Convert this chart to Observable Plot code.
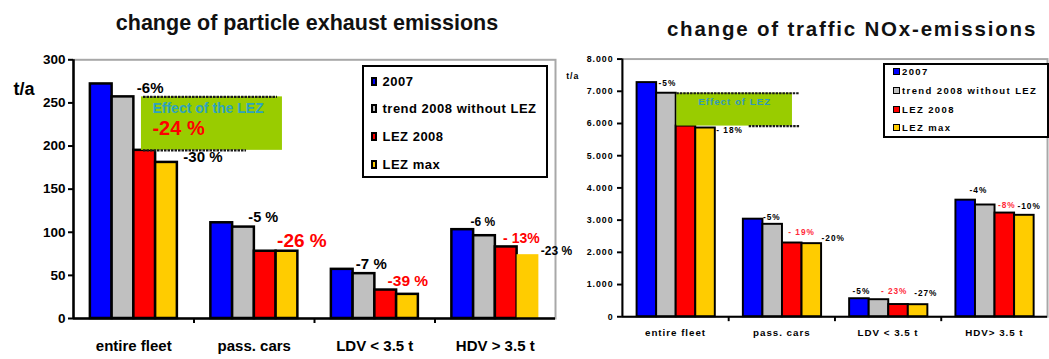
<!DOCTYPE html>
<html><head><meta charset="utf-8">
<script src="https://cdn.jsdelivr.net/npm/d3@7"></script>
<script src="https://cdn.jsdelivr.net/npm/@observablehq/plot@0.6"></script>
<style>
body{margin:0;background:#fff}
#root{position:relative;width:1049px;height:359px;overflow:hidden;background:#fff;font-family:"Liberation Sans",Arial,sans-serif;color:#000}
.title{position:absolute;font-weight:bold;text-align:center;white-space:nowrap;line-height:1;color:#111}
.legend{position:absolute;box-sizing:border-box;border:2.5px solid #000;background:#fff}
.item{position:absolute;left:0;height:16px;display:flex;align-items:center;white-space:nowrap;font-weight:bold}
.sw{box-sizing:border-box;border:2px solid #000;display:inline-block;flex:none}
svg.nox text{letter-spacing:1px}
</style></head><body>
<div id="root">
<div class="title" style="left:0;width:614px;top:13px;font-size:21.5px">change of particle exhaust emissions</div>
<div class="title" style="left:652px;width:400px;top:19px;font-size:20.5px;letter-spacing:1.8px">change of traffic NOx-emissions</div>
<div id="left" style="position:absolute;left:0;top:40px"></div>
<div id="right" style="position:absolute;left:560px;top:40px"></div>
<div class="legend" id="leg1" style="left:362px;top:65px;width:186px;height:113px"></div>
<div class="legend" id="leg2" style="left:883px;top:63px;width:166px;height:75px"></div>
</div>
<script>
// ---------- data ----------
const pmCategories = ["entire fleet", "pass. cars", "LDV < 3.5 t", "HDV > 3.5 t"];
const noxCategories = ["entire fleet", "pass. cars", "LDV < 3.5 t", "HDV> 3.5 t"];
const seriesNames = ["2007", "trend 2008 without LEZ", "LEZ 2008", "LEZ max"];
const seriesColors = ["#0000ff", "#c0c0c0", "#ff0000", "#ffcc00"];

const pm2007    = [272, 111, 57, 103];
const pmTrend   = [257, 106, 52, 96];
const pmLez2008 = [195, 78, 33, 83];
const pmLezMax  = [181, 78, 28, 74];

const nox2007    = [7270, 3030, 560, 3620];
const noxTrend   = [6940, 2870, 530, 3470];
const noxLez2008 = [5920, 2290, 380, 3220];
const noxLezMax  = [5860, 2270, 375, 3150];

const pmTicks  = [0, 50, 100, 150, 200, 250, 300];
const noxTicks = [0, 1000, 2000, 3000, 4000, 5000, 6000, 7000, 8000];

const pmEffectLabel = "Effect of the LEZ";
const pmEffectValue = "-24 %";
const noxEffectLabel = "Effect of LEZ";

const pmNoteTexts = ["-6%", "-30 %", "-5 %", "-26 %", "-7 %", "-39 %", "-6 %", "- 13%", "-23 %"];
const pmNoteCat   = [0, 0, 1, 1, 2, 2, 3, 3, 3];
const pmNoteSer   = [1, 3, 1, 2, 1, 2, 0, 2, 3];

const noxNoteTexts = ["-5%", "- 18%", "-5%", "- 19%", "-20%", "-5%", "- 23%", "-27%", "-4%", "-8%", "-10%"];
const noxNoteCat   = [0, 0, 1, 1, 1, 2, 2, 2, 3, 3, 3];
const noxNoteSer   = [0, 3, 0, 2, 3, 0, 2, 3, 0, 2, 3];

// ---------- layout / style (not data) ----------
const pmNoteStyle = [
  {dx: 3, dy: -9, size: 15, red: false},
  {dx: 6, dy: -5, size: 15, red: false},
  {dx: -6, dy: -10, size: 14.5, red: false},
  {dx: 1, dy: -10, size: 19, red: true},
  {dx: -19, dy: -9, size: 15, red: false},
  {dx: -9, dy: -9, size: 15.5, red: true},
  {dx: -3, dy: -8, size: 12, red: false},
  {dx: -14, dy: -8, size: 14, red: true},
  {dx: 2, dy: -4, size: 12, red: false}
];
const noxNoteStyle = [
  {dx: 2, dy: 1, red: false},
  {dx: 1, dy: 2, red: false},
  {dx: 0, dy: -2, red: false},
  {dx: -14, dy: -11, red: true},
  {dx: 0, dy: -5, red: false},
  {dx: -17, dy: -8, red: false},
  {dx: -28, dy: -14, red: true},
  {dx: -14, dy: -12, red: false},
  {dx: -6, dy: -10, red: false},
  {dx: -17, dy: -8, red: true},
  {dx: -17, dy: -9, red: false}
];

const deLocale = d3.formatLocale({decimal: ",", thousands: ".", grouping: [3], currency: ["", " €"]});

function drawChart(o) {
  const vals = o.values;
  const rows = [];
  o.cats.forEach((c, i) => seriesNames.forEach((s, j) =>
    rows.push({ci: i, sj: j, v: vals[j][i], fill: seriesColors[j]})));
  const xl = d => d.ci + o.pad + d.sj * o.bw;
  const xr = d => d.ci + o.pad + (d.sj + 1) * o.bw;
  const barTop = (c, s) => vals[s][c];
  const marks = [
    Plot.frame({stroke: "#a8a8a8", strokeWidth: 2}),
    Plot.rect(rows.filter(d => !o.noOutline(d)), {x1: xl, x2: xr, y1: () => 0, y2: "v", fill: "fill", stroke: "#000", strokeWidth: o.barStroke}),
    Plot.rect(rows.filter(d => o.noOutline(d)), {x1: xl, x2: xr, y1: () => 0, y2: "v", fill: "fill"}),
    // effect box
    Plot.rect([0], {x1: () => o.box[0], x2: () => o.box[1], y1: () => vals[2][0], y2: () => vals[1][0], fill: "#99cc00"}),
    Plot.ruleY([vals[1][0]], {x1: () => o.topLine[0], x2: () => o.topLine[1], stroke: "#1a1a1a", strokeWidth: 2.2, strokeDasharray: "2.5,1"}),
    Plot.ruleY([vals[2][0]], {x1: () => o.bottomLine[0], x2: () => o.bottomLine[1], stroke: "#1a1a1a", strokeWidth: 2.2, strokeDasharray: "2.5,1"}),
    // axes
    Plot.axisY(o.ticks, {tickSize: 5, tickPadding: o.tickPad, tickFormat: o.tickFormat, fontSize: o.tickFont, fontWeight: "bold", strokeWidth: 2, label: null}),
    Plot.axisX([0.5, 1.5, 2.5, 3.5], {tickSize: 0, tickPadding: o.catPad, tickFormat: d => o.cats[Math.floor(d)], fontSize: o.catFont, fontWeight: "bold", label: null}),
    Plot.axisX([1, 2, 3], {tickSize: 5, tickFormat: () => "", strokeWidth: 2, label: null}),
    Plot.ruleX([0], {stroke: "#000", strokeWidth: o.axisStroke}),
    Plot.ruleY([0], {stroke: "#000", strokeWidth: o.axisStroke})
  ];
  // effect texts
  o.effectTexts.forEach(t => marks.push(Plot.text([0], {
    x: () => t.center ? (o.box[0] + o.box[1]) / 2 : o.box[0], y: () => vals[1][0],
    text: () => t.text, dx: t.dx, dy: t.dy, textAnchor: t.center ? "middle" : "start",
    fill: t.color, fontSize: t.size, fontWeight: "bold"})));
  // annotations
  o.noteTexts.forEach((txt, k) => {
    const c = o.noteCat[k], s = o.noteSer[k], st = o.noteStyle[k];
    marks.push(Plot.text([0], {
      x: () => c + o.pad + (s + 1) * o.bw, y: () => barTop(c, s), text: () => txt,
      dx: st.dx, dy: st.dy, textAnchor: "start", fill: st.red ? o.noteRed : "#000",
      fontSize: st.size || o.noteFont, fontWeight: "bold"}));
  });
  // unit labels
  o.units.forEach(u => marks.push(Plot.text([u.text], {frameAnchor: "top-left", text: d => d,
    dx: u.dx, dy: u.dy, textAnchor: "middle", fontSize: u.size, fontWeight: "bold"})));
  const svg = Plot.plot({
    width: o.width, height: o.height,
    marginLeft: o.ml, marginRight: o.mr, marginTop: o.mt, marginBottom: o.mb,
    x: {type: "linear", domain: [0, 4], axis: null},
    y: {domain: o.yDomain, axis: null},
    style: {fontFamily: '"Liberation Sans", Arial, sans-serif', background: "transparent", overflow: "visible", color: "#000"},
    marks
  });
  if (o.cls) svg.classList.add(o.cls);
  return svg;
}

document.getElementById("left").appendChild(drawChart({
  cats: pmCategories, values: [pm2007, pmTrend, pmLez2008, pmLezMax],
  width: 560, height: 319, ml: 73, mr: 5, mt: 19.3, mb: 41,
  yDomain: [0, 300], ticks: pmTicks, tickFormat: d => String(d), tickFont: 13.5, tickPad: 3,
  catFont: 15, catPad: 21.5, pad: 0.14, bw: 0.1805, barStroke: 2.5, axisStroke: 2.5,
  box: [0.564, 1.734], topLine: [0.581, 1.693], bottomLine: [0.581, 1.436],
  noOutline: d => d.ci === 3 && d.sj === 3,
  effectTexts: [
    {text: pmEffectLabel, dx: 11, dy: 12, size: 14, color: "#2fa3bd"},
    {text: pmEffectValue, dx: 11, dy: 32, size: 20, color: "#ff0000"}
  ],
  noteTexts: pmNoteTexts, noteCat: pmNoteCat, noteSer: pmNoteSer, noteStyle: pmNoteStyle,
  noteRed: "#ff0000", noteFont: 14,
  units: [{text: "t/a", dx: -49.5, dy: 22.7, size: 18}]
}));

document.getElementById("right").appendChild(drawChart({
  cats: noxCategories, values: [nox2007, noxTrend, noxLez2008, noxLezMax],
  width: 500, height: 319, ml: 63.3, mr: 2, mt: 19, mb: 36.5,
  yDomain: [0, 8000], ticks: noxTicks, tickFormat: d => deLocale.format(",")(d), tickFont: 9, tickPad: 4,
  catFont: 10, catPad: 13, pad: 0.138, bw: 0.184, barStroke: 2, axisStroke: 2,
  box: [0.5125, 1.6], topLine: [0.5125, 1.672], bottomLine: [1.193, 1.672],
  noOutline: () => false,
  effectTexts: [
    {text: noxEffectLabel, dx: 0, dy: 9, size: 10, color: "#3399b8", center: true}
  ],
  noteTexts: noxNoteTexts, noteCat: noxNoteCat, noteSer: noxNoteSer, noteStyle: noxNoteStyle,
  noteRed: "#ff2a3a", noteFont: 8.5,
  units: [{text: "t/a", dx: -50.8, dy: 14, size: 9}],
  cls: "nox"
}));

// ---------- legends ----------
function buildLegend(id, centers, swLeft, swW, swH, border, gap, font, ls) {
  const box = document.getElementById(id);
  seriesNames.forEach((name, i) => {
    const item = document.createElement("div");
    item.className = "item";
    item.style.top = (centers[i] - 8) + "px";
    item.style.left = swLeft + "px";
    item.style.fontSize = font + "px";
    item.style.letterSpacing = ls + "px";
    const sw = document.createElement("span");
    sw.className = "sw";
    sw.style.width = swW + "px"; sw.style.height = swH + "px";
    sw.style.borderWidth = border + "px";
    sw.style.background = seriesColors[i];
    sw.style.marginRight = gap + "px";
    item.appendChild(sw);
    item.appendChild(document.createTextNode(name));
    box.appendChild(item);
  });
}
buildLegend("leg1", [14.2, 41.5, 69.5, 97.5], 6.5, 6, 9, 2, 6, 13, 0.5);
buildLegend("leg2", [6.8, 25.5, 44.5, 62.8], 7.5, 7, 7, 1.6, 2.5, 9.5, 1.4);
</script>
</body></html>
